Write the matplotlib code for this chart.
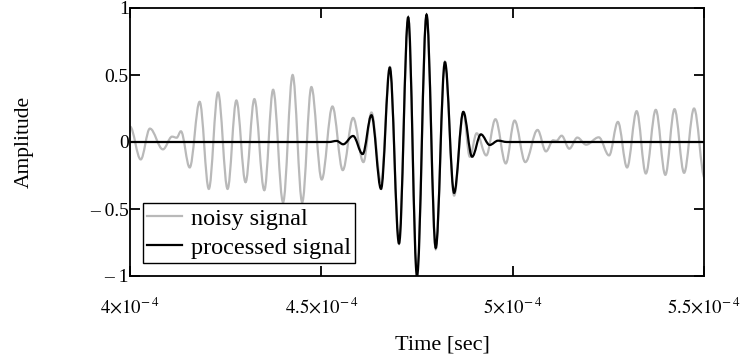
import matplotlib
matplotlib.use('Agg')
import matplotlib.pyplot as plt
from matplotlib.path import Path
from matplotlib.patches import PathPatch
from matplotlib.lines import Line2D

plt.rcParams['font.family'] = ['Liberation Serif', 'DejaVu Serif']
plt.rcParams['mathtext.fontset'] = 'stix'

# peaks and troughs: time in microseconds, amplitude
noisy_t = [400.0, 402.8, 405.2, 408.6, 411.0, 412.2, 413.3, 415.6, 418.2, 420.6,
           423.0, 425.5, 427.8, 430.2, 432.5, 435.1, 437.4, 440.0, 442.5, 445.0,
           447.4, 450.1, 452.9, 455.6, 458.3, 461.0, 463.1, 465.6, 467.9, 470.3,
           472.7, 475.0, 477.5, 479.9, 482.3, 484.7, 487.1, 488.8, 490.6, 493.1,
           495.5, 498.2, 500.5, 503.3, 506.5, 508.7, 510.6, 511.4, 512.8, 514.8,
           516.9, 519.2, 522.5, 525.2, 527.5, 529.9, 532.4, 534.8, 537.4, 539.9,
           542.3, 544.8, 547.4, 550.2]
noisy_amp = [0.115, -0.13, 0.10, -0.055, 0.04, 0.032, 0.08, -0.19, 0.30, -0.35,
             0.37, -0.35, 0.31, -0.30, 0.32, -0.36, 0.39, -0.45, 0.50, -0.45,
             0.41, -0.28, 0.265, -0.21, 0.18, -0.15, 0.22, -0.30, 0.56, -0.76,
             0.93, -1.0, 0.95, -0.80, 0.60, -0.40, 0.22, -0.11, 0.065, -0.10,
             0.17, -0.16, 0.16, -0.15, 0.09, -0.07, 0.013, 0.008, 0.047, -0.05,
             0.033, -0.02, 0.035, -0.10, 0.15, -0.19, 0.23, -0.235, 0.24, -0.245,
             0.245, -0.23, 0.25, -0.27]

proc_t = [400.0, 452.0, 454.0, 455.7, 458.3, 460.8, 463.1, 465.6, 467.9, 470.3,
          472.7, 475.0, 477.5, 479.9, 482.3, 484.7, 487.1, 489.4, 491.7, 494.0,
          496.2, 498.5, 550.0]
proc_amp = [0.0, 0.0, 0.008, -0.017, 0.045, -0.09, 0.20, -0.35, 0.555, -0.756,
            0.93, -1.0, 0.95, -0.79, 0.595, -0.38, 0.225, -0.11, 0.057, -0.022,
            0.01, 0.0, 0.0]

xticks = [4e-4, 4.5e-4, 5e-4, 5.5e-4]
xtick_labels = [r'$4{\times}10^{-\,4}$', r'$4.5{\times}10^{-\,4}$',
                r'$5{\times}10^{-\,4}$', r'$5.5{\times}10^{-\,4}$']
yticks = [-1, -0.5, 0, 0.5, 1]
ytick_labels = ['\u2013 1', '\u2013 0.5', '0', '0.5', '1']


def wave_path(t_us, amp, k=0.36):
    # smooth curve through the extrema, flat tangent at each one
    t = [v * 1e-6 for v in t_us]
    verts = [(t[0], amp[0])]
    codes = [Path.MOVETO]
    for i in range(1, len(t)):
        dt = t[i] - t[i - 1]
        verts += [(t[i - 1] + k * dt, amp[i - 1]), (t[i] - k * dt, amp[i]), (t[i], amp[i])]
        codes += [Path.CURVE4] * 3
    return Path(verts, codes)


fig = plt.figure(figsize=(7.4, 3.6), dpi=100)
ax = fig.add_axes([130 / 740, 1 - 276 / 360, 574 / 740, 268 / 360])

grey = '#b9b9b9'
ax.add_patch(PathPatch(wave_path(noisy_t, noisy_amp), fill=False, edgecolor=grey, lw=1.6))
ax.add_patch(PathPatch(wave_path(proc_t, proc_amp), fill=False, edgecolor='black', lw=1.6))

ax.set_xlim(4e-4, 5.5e-4)
ax.set_ylim(-1, 1)
ax.set_xticks(xticks, xtick_labels, fontsize=13.5)
ax.set_yticks(yticks, ytick_labels, fontsize=14)
ax.tick_params(direction='in', length=7, width=1.3, top=True, right=True)
ax.tick_params(axis='x', pad=15)
ax.tick_params(axis='y', pad=1)
for s in ax.spines.values():
    s.set_linewidth(1.3)

handles = [Line2D([], [], color=grey, lw=1.6), Line2D([], [], color='black', lw=1.6)]
leg = ax.legend(handles, ['noisy signal', 'processed signal'], loc='lower left',
                bbox_to_anchor=(13 / 574, 13 / 268), borderaxespad=0, fontsize=17.5,
                frameon=True, fancybox=False, framealpha=1, edgecolor='black',
                handlelength=1.42, handletextpad=0.37, borderpad=0.18, labelspacing=0.29)
leg.get_frame().set_linewidth(1.0)

fig.text(24 / 740, 1 - 142 / 360, 'Amplitude', rotation=90, ha='center', va='center', fontsize=15.5)
fig.text(442 / 740, 1 - 345 / 360, 'Time [sec]', ha='center', va='center', fontsize=16)

fig.savefig('out.png', dpi=100)
